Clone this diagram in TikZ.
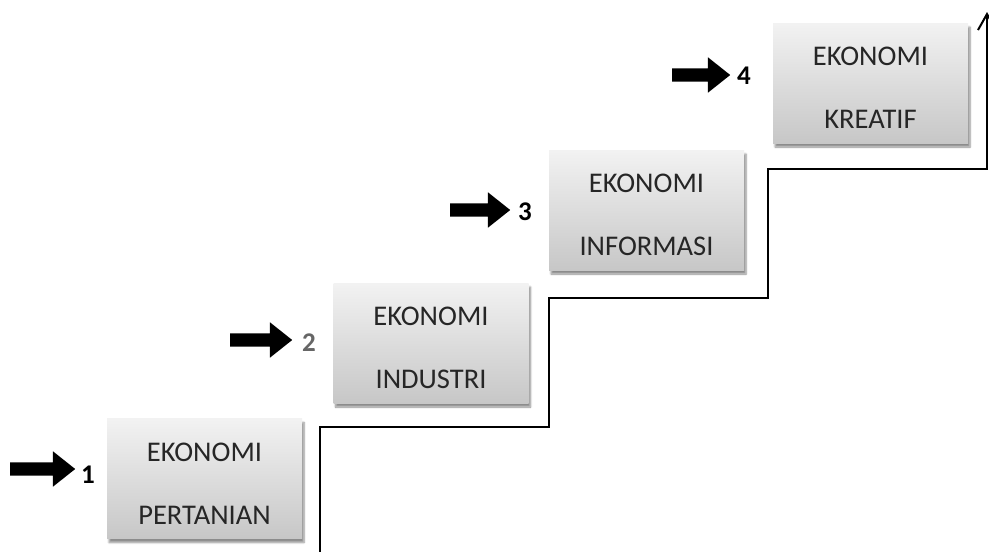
\documentclass[tikz,border=0pt]{standalone}
\usepackage{fontspec}
\setmainfont{Carlito}
\usetikzlibrary{shapes.arrows,shadows.blur,arrows.meta}

\begin{document}
\begin{tikzpicture}[x=1pt, y=-1pt,
    stage/.style={rectangle, minimum width=195pt, minimum height=120pt, inner sep=0pt,
      top color=black!5, bottom color=black!22, align=center,
      font=\fontsize{28.5}{63}\selectfont, text=black!85,
      blur shadow={shadow xshift=2pt, shadow yshift=-4pt, shadow blur steps=6, shadow opacity=45}},
    pointer/.style={single arrow, fill=black, inner xsep=0pt, inner ysep=6.5pt,
      single arrow head extend=11pt, single arrow tip angle=77, anchor=tail},
    num/.style={font=\fontsize{27}{27}\selectfont\bfseries, anchor=west, inner sep=0pt}]
    \useasboundingbox (0,0) rectangle (989,552);

    % tangga
    \draw[line width=2pt, -{Straight Barb[length=16pt, width=18pt]}]
      (320,556) -- (320,427) -- (549,427) -- (549,298) -- (768,298)
      -- (768,169) -- (987,169) -- (987,12);

    % tahap ekonomi
    \node[stage] (tani) at (204.5,478.5) {\rule{0pt}{28.8pt}EKONOMI\\PERTANIAN};
    \node[stage] (industri) at (431,343) {\rule{0pt}{28.8pt}EKONOMI\\INDUSTRI};
    \node[stage] (info) at (646.5,210) {\rule{0pt}{28.8pt}EKONOMI\\INFORMASI};
    \node[stage] (kreatif) at (870.5,83) {\rule{0pt}{28.8pt}EKONOMI\\KREATIF};

    % panah
    \node[pointer, minimum height=65pt] (a1) at (10,469) {};
    \node[pointer, minimum height=62pt] (a2) at (230,340) {};
    \node[pointer, minimum height=60pt] (a3) at (450,210) {};
    \node[pointer, minimum height=58pt] (a4) at (672,75) {};

    \node[num] (n1) at (81,475) {1};
    \node[num, text=black!60] (n2) at (302,343) {2};
    \node[num] (n3) at (518,212) {3};
    \node[num] (n4) at (737,76) {4};
\end{tikzpicture}
\end{document}
